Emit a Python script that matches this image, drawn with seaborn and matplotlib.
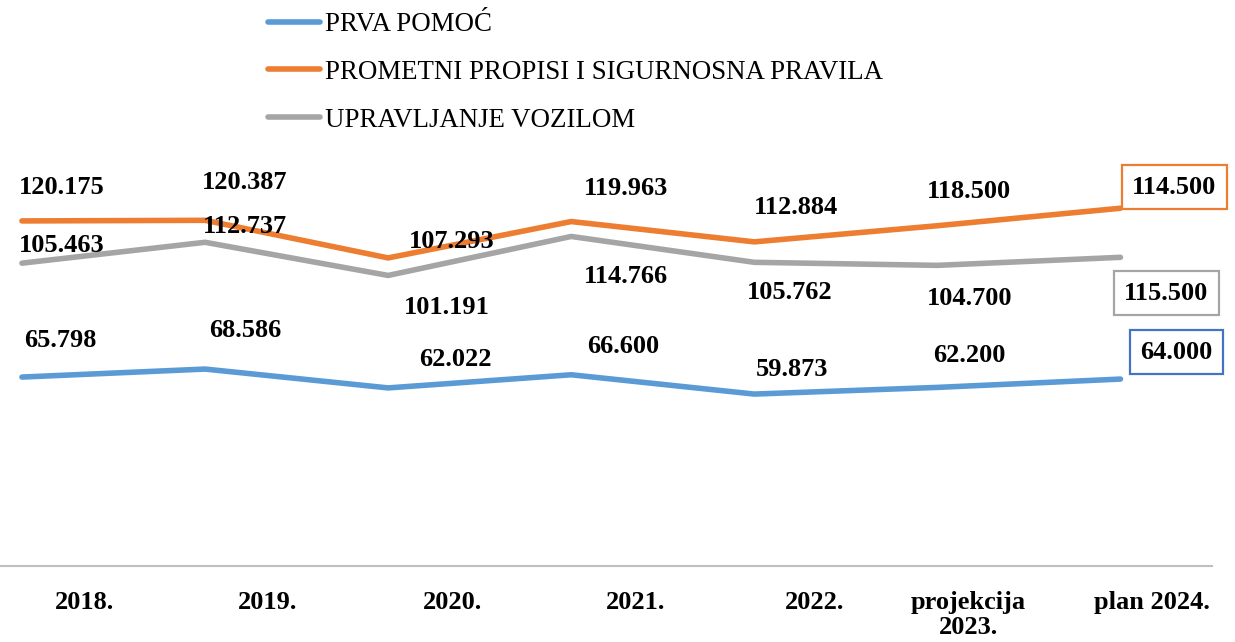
import pandas as pd
import numpy as np
import matplotlib
matplotlib.use("Agg")
import matplotlib.pyplot as plt
import seaborn as sns

# data
godine = ["2018.", "2019.", "2020.", "2021.", "2022.", "projekcija\n2023.", "plan 2024."]
serije = ["PRVA POMOĆ", "PROMETNI PROPISI I SIGURNOSNA PRAVILA", "UPRAVLJANJE VOZILOM"]
prva_pomoc = [65.798, 68.586, 62.022, 66.600, 59.873, 62.200, 65.1]
prometni = [120.175, 120.387, 107.293, 119.963, 112.884, 118.500, 124.6]
upravljanje = [105.463, 112.737, 101.191, 114.766, 105.762, 104.700, 107.5]
# labels as printed in the chart
prva_txt = ["65.798", "68.586", "62.022", "66.600", "59.873", "62.200", "64.000"]
prometni_txt = ["120.175", "120.387", "107.293", "119.963", "112.884", "118.500", "114.500"]
upravljanje_txt = ["105.463", "112.737", "101.191", "114.766", "105.762", "104.700", "115.500"]

boje = {"PRVA POMOĆ": "#5B9BD5",
        "PROMETNI PROPISI I SIGURNOSNA PRAVILA": "#ED7D31",
        "UPRAVLJANJE VOZILOM": "#A5A5A5"}
okviri = ["#4472C4", "#ED7D31", "#A5A5A5"]

x = np.arange(len(godine))
df = pd.DataFrame({
    "x": np.tile(x, 3),
    "vrijednost": prva_pomoc + prometni + upravljanje,
    "serija": np.repeat(serije, len(godine)),
})

sns.set_style("white")
plt.rcParams["font.family"] = ["Liberation Serif", "DejaVu Serif"]
plt.rcParams["text.color"] = "black"
plt.rcParams["xtick.color"] = "black"

W, H = 1235, 642
fig = plt.figure(figsize=(W / 100, H / 100), dpi=100)
ax = fig.add_axes([0, (H - 566) / H, 1212 / W, (566 - 164) / H])

sns.lineplot(data=df, x="x", y="vrijednost", hue="serija", palette=boje,
             linewidth=4, sort=False, ax=ax, legend=False)
for l in ax.lines:
    l.set_solid_capstyle("round")

ax.set_xlim(-0.12, 6.5)
ax.set_ylim(0, 140)
ax.set_yticks([])
ax.set_xlabel("")
ax.set_ylabel("")
for s in ["top", "left", "right"]:
    ax.spines[s].set_visible(False)
ax.spines["bottom"].set_color("#BFBFBF")
ax.spines["bottom"].set_linewidth(1.5)

# category labels sit right of the points
pomak = [0.34, 0.34, 0.35, 0.35, 0.33, 0.17, 0.17]
ax.set_xticks(x + np.array(pomak))
ax.set_xticklabels(godine, fontsize=19, fontweight="bold", linespacing=1.1)
ax.tick_params(axis="x", length=0, pad=18, colors="black")

# label offsets in pixels (dx, dy)
off_prva = [(38, 37), (40, 39), (67, 28), (52, 28), (38, 25), (32, 32), (56, 27)]
off_prom = [(40, 33), (40, 38), (64, 16), (55, 33), (42, 34), (32, 34), (54, 21)]
off_upr = [(40, 18), (40, 16), (59, -32), (55, -40), (35, -30), (32, -33), (46, -36)]

for vals, txts, offs, ec in [(prva_pomoc, prva_txt, off_prva, okviri[0]),
                             (prometni, prometni_txt, off_prom, okviri[1]),
                             (upravljanje, upravljanje_txt, off_upr, okviri[2])]:
    for i in range(len(godine)):
        kw = {}
        if i == len(godine) - 1:
            kw["bbox"] = dict(boxstyle="square,pad=0.4", fc="white", ec=ec, lw=1.6)
        ax.annotate(txts[i], (x[i], vals[i]), xytext=offs[i], textcoords="offset pixels",
                    ha="center", va="center", fontsize=19, fontweight="bold",
                    color="black", annotation_clip=False, **kw)

handles = [plt.Line2D([], [], color=boje[s], lw=4, solid_capstyle="round") for s in serije]
fig.legend(handles, serije, loc="upper left", bbox_to_anchor=(268 / W, 1 - 12 / H),
           frameon=False, fontsize=19.4, handlelength=1.92, handletextpad=0.2,
           labelspacing=0.85, borderpad=0, borderaxespad=0, labelcolor="black")

fig.savefig("out.png", dpi=100)
